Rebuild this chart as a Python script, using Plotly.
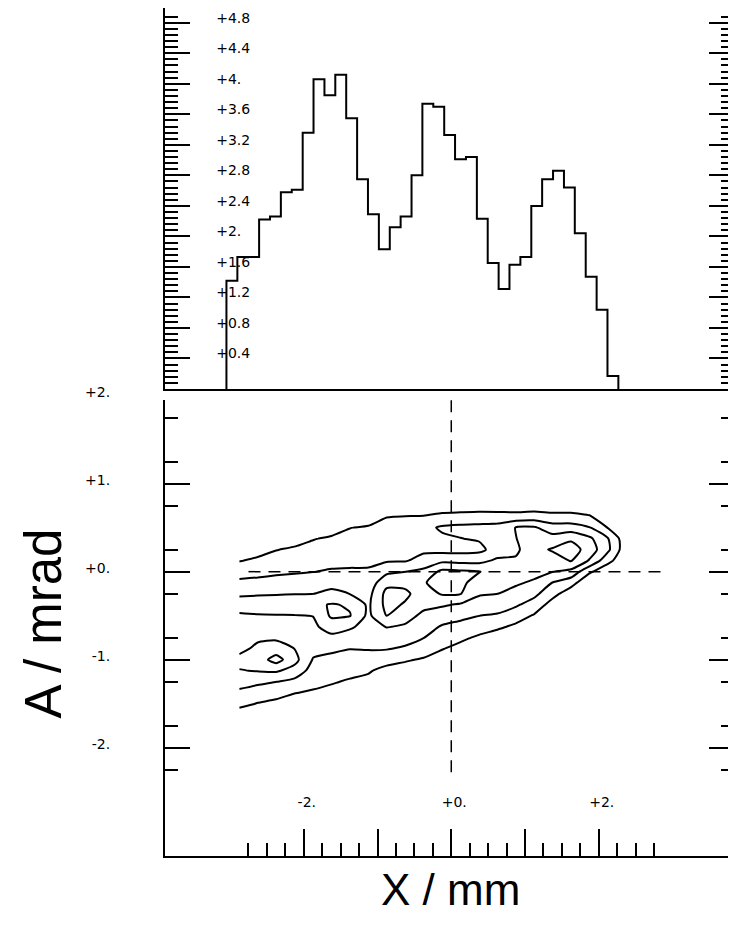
import plotly.graph_objects as go

# ---------------- data ----------------
# projected histogram (top panel): bin centres (mm) and heights
HIST_CENTERS = [-2.975, -2.827, -2.680, -2.532, -2.384, -2.237, -2.089, -1.941, -1.794,
                -1.646, -1.499, -1.351, -1.203, -1.056, -0.908, -0.760, -0.613, -0.465,
                -0.318, -0.170, -0.022, 0.125, 0.273, 0.421, 0.568, 0.716, 0.863, 1.011,
                1.159, 1.306, 1.454, 1.602, 1.749, 1.897, 2.045, 2.192]
HIST_COUNTS = [1.42, 1.73, 1.73, 2.22, 2.26, 2.58, 2.61, 3.36, 4.06, 3.85, 4.12, 3.55,
               2.75, 2.29, 1.83, 2.12, 2.26, 2.80, 3.74, 3.70, 3.33, 3.01, 3.04, 2.23,
               1.65, 1.31, 1.63, 1.73, 2.40, 2.75, 2.86, 2.64, 2.04, 1.47, 1.04, 0.17]
HIST_BIN_WIDTH = 0.1476

# phase-space density grid (bottom panel)
GRID_X = [-2.875, -2.625, -2.375, -2.125, -1.875, -1.625, -1.375, -1.125, -0.875, -0.625,
          -0.375, -0.125, 0.125, 0.375, 0.625, 0.875, 1.125, 1.375, 1.625, 1.875, 2.125, 2.375]
GRID_Y = [-1.75, -1.625, -1.5, -1.375, -1.25, -1.125, -1.0, -0.875, -0.75, -0.625, -0.5,
          -0.375, -0.25, -0.125, 0.0, 0.125, 0.25, 0.375, 0.5, 0.625, 0.75, 0.875]
# one list per GRID_X column, values listed along GRID_Y
DENSITY_BY_COLUMN = [
    [0, 0.5, 1.3, 1.8, 2.4, 2.95, 3.3, 2.7, 2.5, 2.5, 2.8, 3.6, 2.8, 2.2, 1.6, 0.95, 0.3, 0, 0, 0, 0, 0],
    [0, 0.35, 0.95, 1.55, 2.2, 3.05, 3.5, 3.24, 2.81, 2.57, 2.9, 3.65, 2.86, 2.26, 1.71, 1.2, 0.6, 0.1, 0, 0, 0, 0],
    [0, 0.3, 0.8, 1.3, 2.02, 3.12, 4.4, 3.45, 2.85, 2.66, 2.93, 3.72, 2.91, 2.34, 1.83, 1.4, 0.97, 0.4, 0, 0, 0, 0],
    [0, 0.2, 0.6, 1.03, 1.72, 2.63, 3.32, 2.99, 2.71, 2.73, 2.95, 3.65, 2.96, 2.41, 1.91, 1.53, 1.15, 0.6, 0.1, 0, 0, 0],
    [0, 0.1, 0.5, 0.9, 1.25, 1.6, 1.94, 2.27, 2.6, 2.8, 3.02, 3.78, 2.98, 2.5, 1.98, 1.65, 1.3, 0.95, 0.4, 0, 0, 0],
    [0, 0.05, 0.35, 0.75, 1.08, 1.42, 1.76, 2.17, 2.76, 3.44, 4.15, 4.07, 3.27, 2.63, 2.09, 1.74, 1.44, 1.13, 0.6, 0, 0, 0],
    [0, 0, 0.2, 0.55, 0.9, 1.26, 1.64, 2.02, 2.57, 3.14, 4.05, 3.9, 2.98, 2.55, 2.11, 1.79, 1.52, 1.25, 0.98, 0.45, 0, 0],
    [0, 0, 0.1, 0.4, 0.75, 1.1, 1.6, 2.06, 2.35, 2.65, 2.78, 2.83, 2.67, 2.41, 2.1, 1.83, 1.59, 1.35, 1.1, 0.5, 0, 0],
    [0, 0, 0, 0.1, 0.35, 0.7, 1.35, 2.06, 2.54, 3.04, 4.02, 4.31, 4.31, 3.7, 2.78, 1.9, 1.67, 1.45, 1.22, 0.98, 0.3, 0],
    [0, 0, 0, 0, 0.25, 0.6, 1.1, 1.85, 2.4, 2.9, 3.29, 3.9, 4.2, 3.72, 2.98, 1.92, 1.7, 1.48, 1.25, 1.03, 0.35, 0],
    [0, 0, 0, 0, 0.05, 0.4, 0.9, 1.46, 2.02, 2.42, 2.83, 3.19, 3.5, 3.95, 3.26, 2.36, 1.8, 1.55, 1.75, 1.05, 0.4, 0],
    [0, 0, 0, 0, 0, 0.1, 0.55, 1.05, 1.48, 1.91, 2.5, 3.12, 4.1, 4.25, 4.25, 2.77, 1.65, 1.85, 2.12, 1.3, 0.4, 0],
    [0, 0, 0, 0, 0, 0, 0.15, 0.7, 1.2, 1.7, 2.25, 2.88, 4.05, 4.23, 4.17, 2.7, 1.65, 1.98, 2.22, 1.36, 0.45, 0],
    [0, 0, 0, 0, 0, 0, 0, 0.2, 0.85, 1.43, 2.01, 2.57, 3.11, 3.58, 4.05, 2.69, 1.77, 2.08, 2.27, 1.4, 0.5, 0],
    [0, 0, 0, 0, 0, 0, 0, 0, 0.5, 1.19, 1.89, 2.46, 3.01, 3.25, 3.5, 3.19, 2.38, 2.1, 2.36, 1.38, 0.5, 0],
    [0, 0, 0, 0, 0, 0, 0, 0, 0.2, 0.8, 1.47, 2.13, 2.75, 3.11, 3.3, 3.14, 2.8, 2.97, 3.04, 1.35, 0.45, 0],
    [0, 0, 0, 0, 0, 0, 0, 0, 0, 0.3, 0.9, 1.58, 2.25, 2.88, 3.25, 3.53, 3.7, 3.53, 3.12, 1.44, 0.5, 0],
    [0, 0, 0, 0, 0, 0, 0, 0, 0, 0, 0.1, 0.6, 1.32, 1.97, 3.02, 3.55, 4.1, 3.41, 2.44, 1.29, 0.45, 0],
    [0, 0, 0, 0, 0, 0, 0, 0, 0, 0, 0, 0.1, 0.45, 1.38, 2.71, 4.06, 4.48, 3.83, 2.44, 1.29, 0.45, 0],
    [0, 0, 0, 0, 0, 0, 0, 0, 0, 0, 0, 0, 0, 0.2, 1.15, 2.9, 3.55, 3.2, 2.05, 1.1, 0.3, 0],
    [0, 0, 0, 0, 0, 0, 0, 0, 0, 0, 0, 0, 0, 0, 0.3, 1.3, 2.2, 2.05, 0.95, 0.3, 0, 0],
    [0, 0, 0, 0, 0, 0, 0, 0, 0, 0, 0, 0, 0, 0, 0, 0.2, 0.3, 0.3, 0.2, 0, 0, 0],
]
CONTOUR_LEVELS = dict(start=1, end=4, size=1)

# cross-hair reference lines
CROSS_H_X = [-2.75, 2.85]
CROSS_V_Y = [-2.28, 1.95]

# tick labels
TOP_TICKVALS = [0.4, 0.8, 1.2, 1.6, 2.0, 2.4, 2.8, 3.2, 3.6, 4.0, 4.4, 4.8]
TOP_TICKTEXT = ["+0.4", "+0.8", "+1.2", "+1.6", "+2.", "+2.4", "+2.8", "+3.2", "+3.6",
                "+4.", "+4.4", "+4.8"]
X_TICKVALS = [-2, -1, 0, 1, 2]
X_TICKTEXT = ["-2.", "", "+0.", "", "+2."]
Y_TICKVALS = [-2, -1, 0, 1]
Y_TICKTEXT = ["-2.", "-1.", "+0.", "+1."]

# ---------------- figure ----------------
# the page body adds an 8 px offset, so the figure is drawn 8 px smaller
OFF = 8
W, H = 736 - OFF, 929 - OFF
ML, MR, MT = 165 - OFF, 0, 0
BOT_AXIS_PX = 856 - OFF          # bottom axis, in figure pixels
MB = H - BOT_AXIS_PX
PH = H - MT - MB
X_RANGE = [-3.882, 3.834]
TOP_Y_RANGE = [0, (389 - OFF) / 76.3]
FONT = "DejaVu Sans, Arial, sans-serif"
TITLE_FONT = "Liberation Sans, Arial, sans-serif"


def py(page_y):
    """page pixel row -> paper fraction"""
    return (BOT_AXIS_PX - (page_y - OFF)) / PH


def px(page_x):
    """page pixel column -> paper fraction"""
    return ((page_x - OFF) - ML) / (W - ML - MR)


# step outline of the histogram
half = HIST_BIN_WIDTH / 2
step_x = [HIST_CENTERS[0] - half] + [c - half for c in HIST_CENTERS] + [HIST_CENTERS[-1] + half]
step_y = [0] + list(HIST_COUNTS) + [0]

z = [list(row) for row in zip(*DENSITY_BY_COLUMN)]

fig = go.Figure()
fig.add_trace(go.Scatter(x=step_x, y=step_y, mode="lines", line_shape="hv",
                         line=dict(color="black", width=2), xaxis="x", yaxis="y",
                         showlegend=False, hoverinfo="skip"))
fig.add_trace(go.Contour(x=GRID_X, y=GRID_Y, z=z, xaxis="x2", yaxis="y2",
                         contours=dict(coloring="lines", **CONTOUR_LEVELS),
                         colorscale=[[0, "black"], [1, "black"]],
                         line=dict(width=2, smoothing=0.6),
                         showscale=False, hoverinfo="skip"))
fig.add_trace(go.Scatter(x=CROSS_H_X, y=[0, 0], mode="lines", xaxis="x2", yaxis="y2",
                         line=dict(color="black", width=1.5, dash="12px,8px"),
                         showlegend=False, hoverinfo="skip"))
fig.add_trace(go.Scatter(x=[0, 0], y=CROSS_V_Y, mode="lines", xaxis="x2", yaxis="y2",
                         line=dict(color="black", width=1.5, dash="12px,8px"),
                         showlegend=False, hoverinfo="skip"))

top_minor = [round(0.08 * k, 2) for k in range(1, 62) if k % 5 != 0]
x_minor = [round(-2.75 + 0.25 * k, 2) for k in range(0, 23) if (k + 1) % 4 != 0]
y_minor = [round(-2.25 + 0.25 * k, 2) for k in range(0, 17) if (k + 1) % 4 != 0]

common_axis = dict(showgrid=False, zeroline=False, linecolor="black", linewidth=2,
                   tickcolor="black", tickwidth=2)

fig.update_layout(
    width=W, height=H,
    margin=dict(l=ML, r=MR, t=MT, b=MB, pad=0),
    paper_bgcolor="white", plot_bgcolor="white",
    showlegend=False,
    font=dict(family=FONT, size=14, color="black"),
    xaxis=dict(domain=[0, 1], anchor="y", range=X_RANGE, showline=True, ticks="",
               showticklabels=False, **common_axis),
    yaxis=dict(domain=[py(389), 1], anchor="x", range=TOP_Y_RANGE,
               showline=True, mirror="ticks", ticks="inside", ticklen=25,
               tickmode="array", tickvals=TOP_TICKVALS, ticktext=TOP_TICKTEXT,
               ticklabelposition="inside", ticklabelstandoff=26, ticklabelshift=-5,
               tickfont=dict(size=14, color="black"),
               minor=dict(tickmode="array", tickvals=top_minor, ticks="inside", ticklen=13,
                          tickwidth=2, tickcolor="black"),
               **common_axis),
    xaxis2=dict(domain=[0, 1], anchor="y2", range=X_RANGE, showline=True,
                ticks="inside", ticklen=27, tickmode="array", tickvals=X_TICKVALS,
                ticktext=X_TICKTEXT, ticklabelposition="inside", ticklabelstandoff=19,
                ticklabelshift=3, tickfont=dict(size=14, color="black"),
                minor=dict(tickmode="array", tickvals=x_minor, ticks="inside", ticklen=13,
                           tickwidth=2, tickcolor="black"),
                **common_axis),
    yaxis2=dict(domain=[0, py(400)], anchor="x2", range=[-3.23, 1.95],
                showline=True, mirror="ticks", ticks="inside", ticklen=25,
                tickmode="array", tickvals=Y_TICKVALS, ticktext=Y_TICKTEXT,
                ticklabelstandoff=50, ticklabelshift=-4, tickfont=dict(size=14, color="black"),
                minor=dict(tickmode="array", tickvals=y_minor, ticks="inside", ticklen=13,
                           tickwidth=2, tickcolor="black"),
                **common_axis),
    annotations=[
        dict(text="+2.", xref="paper", yref="paper", x=px(112), y=py(392),
             xanchor="right", yanchor="middle",
             showarrow=False, font=dict(size=14, family=FONT, color="black")),
        dict(text="A / mrad", xref="paper", yref="paper", x=px(43), y=py(623),
             xanchor="center", yanchor="middle",
             textangle=-90, showarrow=False, font=dict(size=51, family=TITLE_FONT, color="black")),
        dict(text="X / mm", xref="paper", yref="paper", x=px(452), y=py(889),
             xanchor="center", yanchor="middle",
             showarrow=False, font=dict(size=44, family=TITLE_FONT, color="black")),
    ],
)

fig.write_html("out.html")
